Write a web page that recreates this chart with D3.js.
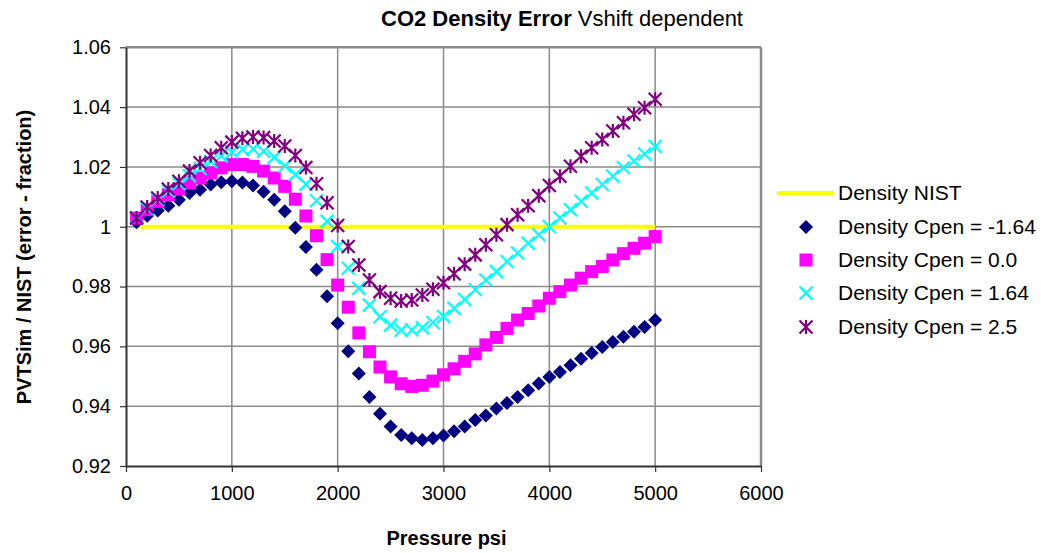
<!DOCTYPE html>
<html><head><meta charset="utf-8">
<script src="https://cdn.jsdelivr.net/npm/d3@7"></script>
<style>
html,body{margin:0;padding:0;background:#fff;}
text{font-family:"Liberation Sans",Arial,sans-serif;fill:#000;}
</style></head>
<body><svg id="c" width="1041" height="553"></svg>
<script>
const pressures = [100,200,300,400,500,600,700,800,900,1000,1100,1200,1300,1400,1500,1600,1700,1800,1900,2000,2100,2200,2300,2400,2500,2600,2700,2800,2900,3000,3100,3200,3300,3400,3500,3600,3700,3800,3900,4000,4100,4200,4300,4400,4500,4600,4700,4800,4900,5000];
const nist = [1,1,1,1,1,1,1,1,1,1,1,1,1,1,1,1,1,1,1,1,1,1,1,1,1,1,1,1,1,1,1,1,1,1,1,1,1,1,1,1,1,1,1,1,1,1,1,1,1,1];
const cpenM164 = [1.0015,1.0037,1.0054,1.0070,1.0090,1.0113,1.0124,1.0141,1.0149,1.0152,1.0148,1.0138,1.0117,1.0090,1.0052,0.9997,0.9932,0.9856,0.9768,0.9677,0.9584,0.9509,0.9431,0.9375,0.9332,0.9304,0.9293,0.9287,0.9293,0.9302,0.9316,0.9332,0.9354,0.9369,0.9392,0.9411,0.9431,0.9453,0.9476,0.9498,0.9514,0.9537,0.9559,0.9578,0.9598,0.9615,0.9632,0.9649,0.9665,0.9688];
const cpen00 = [1.0029,1.0057,1.0085,1.0107,1.0126,1.0147,1.0163,1.0180,1.0197,1.0208,1.0208,1.0202,1.0186,1.0163,1.0135,1.0092,1.0036,0.9970,0.9890,0.9805,0.9731,0.9645,0.9582,0.9531,0.9498,0.9475,0.9466,0.9470,0.9484,0.9505,0.9525,0.9550,0.9575,0.9605,0.9630,0.9660,0.9688,0.9710,0.9735,0.9761,0.9783,0.9805,0.9828,0.9850,0.9867,0.9889,0.9910,0.9928,0.9945,0.9967];
const cpen164 = [1.0030,1.0062,1.0092,1.0120,1.0145,1.0170,1.0195,1.0218,1.0237,1.0250,1.0258,1.0260,1.0252,1.0232,1.0203,1.0175,1.0142,1.0087,1.0018,0.9934,0.9861,0.9794,0.9738,0.9699,0.9671,0.9654,0.9655,0.9662,0.9680,0.9700,0.9727,0.9757,0.9790,0.9822,0.9850,0.9884,0.9912,0.9945,0.9973,1.0000,1.0029,1.0057,1.0085,1.0113,1.0141,1.0169,1.0197,1.0220,1.0243,1.0268];
const cpen25 = [1.0029,1.0066,1.0096,1.0126,1.0152,1.0186,1.0214,1.0238,1.0264,1.0283,1.0296,1.0300,1.0298,1.0287,1.0270,1.0238,1.0198,1.0144,1.0080,1.0004,0.9934,0.9872,0.9822,0.9783,0.9761,0.9752,0.9755,0.9772,0.9791,0.9813,0.9843,0.9875,0.9906,0.9940,0.9973,1.0007,1.0040,1.0070,1.0104,1.0138,1.0169,1.0202,1.0236,1.0264,1.0292,1.0320,1.0348,1.0376,1.0398,1.0426];
const xTicks = [0,1000,2000,3000,4000,5000,6000];
const yTicks = [0.92,0.94,0.96,0.98,1.00,1.02,1.04,1.06];
const yTickLabels = ["0.92","0.94","0.96","0.98","1","1.02","1.04","1.06"];
const seriesNames = ["Density NIST","Density Cpen = -1.64","Density Cpen = 0.0","Density Cpen = 1.64","Density Cpen = 2.5"];
const titleBold = "CO2 Density Error";
const titleRest = " Vshift dependent";
const xTitle = "Pressure psi";
const yTitle = "PVTSim / NIST (error - fraction)";

const svg = d3.select("#c");
const L = 126, R = 761, T = 47.3, B = 466;
const x = d3.scaleLinear().domain([0, 6000]).range([L, R]);
const y = d3.scaleLinear().domain([0.92, 1.06]).range([B, T]);

// gridlines
const g = svg.append("g");
g.selectAll("line.gx").data(xTicks.slice(1)).join("line")
  .attr("x1", d => x(d)).attr("x2", d => x(d)).attr("y1", T).attr("y2", B)
  .attr("stroke", "#8a8a8a").attr("stroke-width", d => d === 6000 ? 2.5 : 1.5);
g.selectAll("line.gy").data(yTicks.slice(1)).join("line")
  .attr("x1", L).attr("x2", R).attr("y1", d => y(d)).attr("y2", d => y(d))
  .attr("stroke", "#8a8a8a").attr("stroke-width", d => d === 1.06 ? 2.5 : 1.5);

// axes
const xAxis = d3.axisBottom(x).tickValues(xTicks).tickSize(6).tickSizeOuter(0).tickFormat(d3.format("d"));
const yAxis = d3.axisLeft(y).tickValues(yTicks).tickSize(6).tickSizeOuter(0).tickFormat((d, i) => yTickLabels[i]);
const gx = svg.append("g").attr("transform", `translate(0,${B})`).call(xAxis);
const gy = svg.append("g").attr("transform", `translate(${L},0)`).call(yAxis);
[gx, gy].forEach(a => {
  a.select(".domain").attr("stroke", "#333").attr("stroke-width", 2);
  a.selectAll(".tick line").attr("stroke", "#333").attr("stroke-width", 1.2);
  a.selectAll(".tick text").attr("font-family", "Liberation Sans, Arial, sans-serif").attr("font-size", 20).attr("fill", "#000");
});
gx.selectAll(".tick text").attr("dy", "1.25em");
gy.selectAll(".tick text").attr("dx", "-0.3em");

// NIST line
svg.append("path").datum(pressures.map((p, i) => [p, nist[i]]))
  .attr("fill", "none").attr("stroke", "#ffff00").attr("stroke-width", 4)
  .attr("d", d3.line().x(d => x(d[0])).y(d => y(d[1])));

// marker shapes
function drawMarker(sel, type) {
  if (type === "diamond") {
    sel.append("path").attr("d", "M0,-7L7,0L0,7L-7,0Z").attr("fill", "#000080");
  } else if (type === "square") {
    sel.append("rect").attr("x", -6.5).attr("y", -6.5).attr("width", 13).attr("height", 13).attr("fill", "#ff00ff");
  } else if (type === "x") {
    sel.append("path").attr("d", "M-6.5,-6.5L6.5,6.5M-6.5,6.5L6.5,-6.5").attr("stroke", "#00ffff").attr("stroke-width", 2.2).attr("fill", "none");
  } else if (type === "star") {
    sel.append("path").attr("d", "M-6.5,-6.5L6.5,6.5M-6.5,6.5L6.5,-6.5M0,-7L0,7").attr("stroke", "#800080").attr("stroke-width", 2.2).attr("fill", "none");
  }
}
const series = [
  {vals: cpenM164, type: "diamond"},
  {vals: cpen00, type: "square"},
  {vals: cpen164, type: "x"},
  {vals: cpen25, type: "star"}
];
series.forEach(s => {
  const gs = svg.append("g");
  gs.selectAll("g").data(pressures.map((p, i) => [p, s.vals[i]])).join("g")
    .attr("transform", d => `translate(${x(d[0])},${y(d[1])})`)
    .each(function () { drawMarker(d3.select(this), s.type); });
});

// legend
const leg = svg.append("g");
const rowY = [193, 227, 260, 293, 327];
leg.append("line").attr("x1", 777).attr("x2", 834).attr("y1", rowY[0]).attr("y2", rowY[0]).attr("stroke", "#ffff00").attr("stroke-width", 4);
series.forEach((s, i) => {
  const m = leg.append("g").attr("transform", `translate(806,${rowY[i + 1]})`);
  drawMarker(m, s.type);
});
seriesNames.forEach((n, i) => {
  leg.append("text").attr("x", 838).attr("y", rowY[i]).attr("dy", "0.35em").attr("font-size", 21).text(n);
});

// titles
const t = svg.append("text").attr("x", 562).attr("y", 26).attr("text-anchor", "middle").attr("font-size", 22);
t.append("tspan").attr("font-weight", "bold").text(titleBold);
t.append("tspan").text(titleRest);
svg.append("text").attr("x", (L + R) / 2 + 3).attr("y", 545).attr("text-anchor", "middle").attr("font-size", 20).attr("font-weight", "bold").text(xTitle);
svg.append("text").attr("transform", "translate(31,257) rotate(-90)").attr("text-anchor", "middle").attr("font-size", 20).attr("font-weight", "bold").text(yTitle);
</script></body></html>
